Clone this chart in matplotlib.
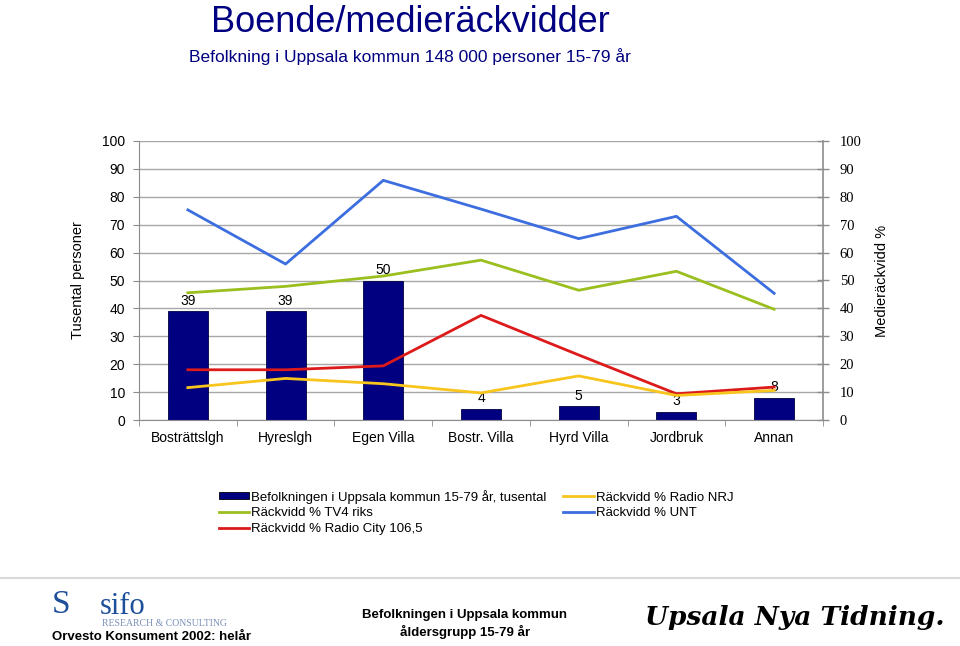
import matplotlib
matplotlib.use("Agg")
import matplotlib.pyplot as plt
from matplotlib.patches import Patch
from matplotlib.lines import Line2D

plt.rcParams['font.family'] = ['Liberation Sans', 'DejaVu Sans']

categories = ["Bosträttslgh", "Hyreslgh", "Egen Villa", "Bostr. Villa", "Hyrd Villa", "Jordbruk", "Annan"]
befolkning = [39, 39, 50, 4, 5, 3, 8]
tv4 = [45.6, 47.9, 51.6, 57.3, 46.5, 53.3, 39.7]
radio_city = [18.0, 18.0, 19.4, 37.5, 23.3, 9.4, 11.8]
radio_nrj = [11.6, 14.9, 13.0, 9.7, 15.8, 8.8, 10.6]
unt = [75.3, 55.9, 85.9, 75.6, 65.0, 73.0, 45.4]
yticks = [0, 10, 20, 30, 40, 50, 60, 70, 80, 90, 100]

navy = "#000080"
c_tv4 = "#9bbf1f"
c_city = "#dd1a1a"
c_nrj = "#f7c51c"
c_unt = "#3c6ee0"
gray = "#8c8c8c"

fig = plt.figure(figsize=(9.6, 6.46), dpi=100)
ax = fig.add_axes([139/960, 1-420/646, (823-139)/960, (420-141)/646])
x = list(range(len(categories)))

ax.bar(x, befolkning, width=0.41, color=navy, edgecolor="#000040", linewidth=0.6, zorder=2)
for xi, v in zip(x, befolkning):
    ax.text(xi, v + 1.2, str(v), ha="center", va="bottom", fontsize=10, zorder=3)

ax.set_xlim(-0.5, len(categories) - 0.5)
ax.set_ylim(0, 100)
ax.set_yticks(yticks)
ax.tick_params(axis="y", labelsize=10, length=4, color=gray, pad=6)
ax.set_xticks(x)
ax.set_xticklabels(categories, fontsize=10)
ax.tick_params(axis="x", length=0, pad=8)
ax.set_xticks([i + 0.5 for i in range(-1, len(categories))], minor=True)
ax.tick_params(axis="x", which="minor", length=4, color=gray)
ax.yaxis.grid(True, color="#a8a8a8", linewidth=1.0, zorder=0)
ax.set_axisbelow(True)
for s in ["top", "right"]:
    ax.spines[s].set_visible(False)
for s in ["left", "bottom"]:
    ax.spines[s].set_color(gray)
ax.set_ylabel("Tusental personer", fontsize=10.5, labelpad=12)

ax2 = ax.twinx()
ax2.plot(x, tv4, color=c_tv4, lw=2)
ax2.plot(x, radio_city, color=c_city, lw=2)
ax2.plot(x, radio_nrj, color=c_nrj, lw=2)
ax2.plot(x, unt, color=c_unt, lw=2)
ax2.set_ylim(0, 100)
ax2.set_yticks(yticks)
ax2.set_yticklabels([str(t) for t in yticks], family="Liberation Serif", fontsize=10.5)
ax2.tick_params(axis="y", direction="inout", length=8, width=1, color=gray, pad=8)
for s in ["top", "left", "bottom"]:
    ax2.spines[s].set_visible(False)
ax2.spines["right"].set_color(gray)
ax2.spines["right"].set_linewidth(1.2)
ax2.set_ylabel("Medieräckvidd %", fontsize=10.5, labelpad=10)

# Titles
fig.text(410/960, 1-22/646, "Boende/medieräckvidder", ha="center", va="center",
         fontsize=26, color=navy)
fig.text(410/960, 1-57/646, "Befolkning i Uppsala kommun 148 000 personer 15-79 år",
         ha="center", va="center", fontsize=12.5, color=navy)

# Legend
handles = [
    Patch(facecolor=navy, edgecolor="black", linewidth=0.6),
    Line2D([], [], color=c_tv4, lw=2),
    Line2D([], [], color=c_city, lw=2),
    Line2D([], [], color=c_nrj, lw=2),
    Line2D([], [], color=c_unt, lw=2),
]
labels = [
    "Befolkningen i Uppsala kommun 15-79 år, tusental",
    "Räckvidd % TV4 riks",
    "Räckvidd % Radio City 106,5",
    "Räckvidd % Radio NRJ",
    "Räckvidd % UNT",
]
fig.legend(handles, labels, ncol=2, loc="upper left", bbox_to_anchor=(212/960, 1-483/646),
           frameon=False, fontsize=9.5, handlelength=2.3, handleheight=0.45,
           handletextpad=0.15, labelspacing=0.3, columnspacing=1.3, borderpad=0)

# Footer
fig.add_artist(Line2D([0, 1], [1-578/646, 1-578/646], color="#d8d8d8", lw=1.5,
                      transform=fig.transFigure))
fig.text(52/960, 1-605/646, "S", fontsize=24, color="#1d4f9a", family="Liberation Serif",
         ha="left", va="center")
fig.text(100/960, 1-606/646, "sifo", fontsize=22, color="#1d4f9a", family="Liberation Serif",
         ha="left", va="center")
fig.text(102/960, 1-624/646, "RESEARCH & CONSULTING", fontsize=7, color="#7a90b8",
         family="Liberation Serif", ha="left", va="center")
fig.text(52/960, 1-637/646, "Orvesto Konsument 2002: helår", fontsize=9.5, ha="left",
         va="center", weight="bold")
fig.text(465/960, 1-615/646, "Befolkningen i Uppsala kommun", fontsize=9.5, ha="center",
         va="center", weight="bold")
fig.text(465/960, 1-632/646, "åldersgrupp 15-79 år", fontsize=9.5, ha="center",
         va="center", weight="bold")
fig.text(795/960, 1-617/646, "Upsala Nya Tidning.", fontsize=19, ha="center", va="center",
         family="DejaVu Serif", weight="bold", style="italic")

fig.savefig("out.png", dpi=100)
